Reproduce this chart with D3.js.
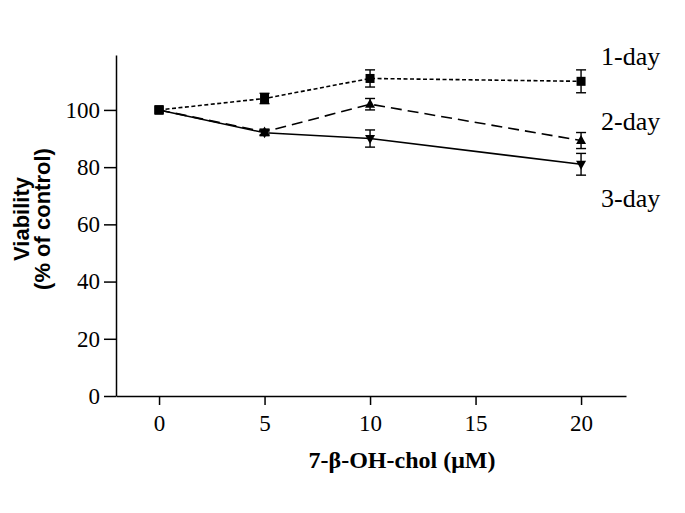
<!DOCTYPE html>
<meta charset="utf-8">
<style>
body { margin: 0; background: #fff; }
.axis path, .axis line { stroke: #000; stroke-width: 1.5px; }
.axis text { font-family: "Liberation Serif", serif; font-size: 23px; fill: #000; }
.series path.line { fill: none; stroke: #000; stroke-width: 1.6px; }
.err { stroke: #000; stroke-width: 1.4px; }
</style>
<svg width="685" height="513"></svg>
<script src="https://d3js.org/d3.v7.min.js"></script>
<script>

var doses = [0, 5, 10, 20];
var day1 = [100, 104, 111, 110];
var day1Err = [0.8, 1.8, 3, 4];
var day2 = [100, 92.3, 102, 89.3];
var day2Err = [0.8, 1, 2, 2.8];
var day3 = [100, 92, 90, 81];
var day3Err = [0.8, 1, 3, 3.8];
var seriesNames = ["1-day", "2-day", "3-day"];
var yTicks = [0, 20, 40, 60, 80, 100];
var xTicks = [0, 5, 10, 15, 20];

var svg = d3.select("svg");

var x = d3.scaleLinear().domain([-2.04, 22.13]).range([116, 626]);
var y = d3.scaleLinear().domain([0, 119.2]).range([396, 55]);

svg.append("g")
    .attr("class", "axis")
    .attr("transform", "translate(0,396)")
    .call(d3.axisBottom(x).tickValues(xTicks).tickSize(9).tickSizeOuter(0).tickPadding(6))
    .selectAll("text").attr("dy", "0.85em");

svg.append("g")
    .attr("class", "axis")
    .attr("transform", "translate(116,0)")
    .call(d3.axisLeft(y).tickValues(yTicks).tickSize(12).tickSizeOuter(0).tickPadding(4));

var series = [
  {name: seriesNames[0], vals: day1, err: day1Err, dash: "4,2.5", sym: "square", labelY: 56},
  {name: seriesNames[1], vals: day2, err: day2Err, dash: "11,6", sym: "up", labelY: 121},
  {name: seriesNames[2], vals: day3, err: day3Err, dash: null, sym: "down", labelY: 198}
];

var line = d3.line()
    .x(function(d) { return x(d[0]); })
    .y(function(d) { return y(d[1]); });

series.forEach(function(s) {
  var pts = doses.map(function(d, i) { return [d, s.vals[i], s.err[i]]; });
  var g = svg.append("g").attr("class", "series");

  g.append("path")
      .attr("class", "line")
      .attr("d", line(pts))
      .attr("stroke-dasharray", s.dash);

  pts.forEach(function(p, i) {
    if (i === 0) return;
    var cx = x(p[0]), top = y(p[1] + p[2]), bot = y(p[1] - p[2]);
    g.append("line").attr("class", "err").attr("x1", cx).attr("x2", cx).attr("y1", top).attr("y2", bot);
    g.append("line").attr("class", "err").attr("x1", cx - 5).attr("x2", cx + 5).attr("y1", top).attr("y2", top);
    g.append("line").attr("class", "err").attr("x1", cx - 5).attr("x2", cx + 5).attr("y1", bot).attr("y2", bot);
  });

  pts.forEach(function(p, i) {
    var cx = x(p[0]), cy = y(p[1]);
    if (s.sym === "square" || i === 0) {
      g.append("rect").attr("x", cx - 4.5).attr("y", cy - 4.5).attr("width", 9).attr("height", 9).attr("fill", "#000");
    } else if (s.sym === "up") {
      g.append("path").attr("d", "M" + cx + "," + (cy - 5.5) + "L" + (cx + 5) + "," + (cy + 3.5) + "L" + (cx - 5) + "," + (cy + 3.5) + "Z").attr("fill", "#000");
    } else {
      g.append("path").attr("d", "M" + cx + "," + (cy + 5.5) + "L" + (cx + 5) + "," + (cy - 3.5) + "L" + (cx - 5) + "," + (cy - 3.5) + "Z").attr("fill", "#000");
    }
  });

  svg.append("text")
      .attr("x", 601)
      .attr("y", s.labelY)
      .attr("dy", "0.35em")
      .style("font-family", "Liberation Serif, serif")
      .style("font-size", "26px")
      .text(s.name);
});

// axis titles
svg.append("text")
    .attr("x", 402)
    .attr("y", 460)
    .attr("dy", "0.35em")
    .attr("text-anchor", "middle")
    .style("font-family", "Liberation Serif, serif")
    .style("font-weight", "bold")
    .style("font-size", "24px")
    .text("7-\u03b2-OH-chol (\u03bcM)");

var yt = svg.append("text")
    .attr("transform", "translate(0,219) rotate(-90)")
    .attr("text-anchor", "middle")
    .style("font-family", "Liberation Sans, Arial, sans-serif")
    .style("font-weight", "bold")
    .style("font-size", "22px");
yt.append("tspan").attr("x", 0).attr("y", 29).text("Viability");
yt.append("tspan").attr("x", 0).attr("y", 50).text("(% of control)");

</script>
